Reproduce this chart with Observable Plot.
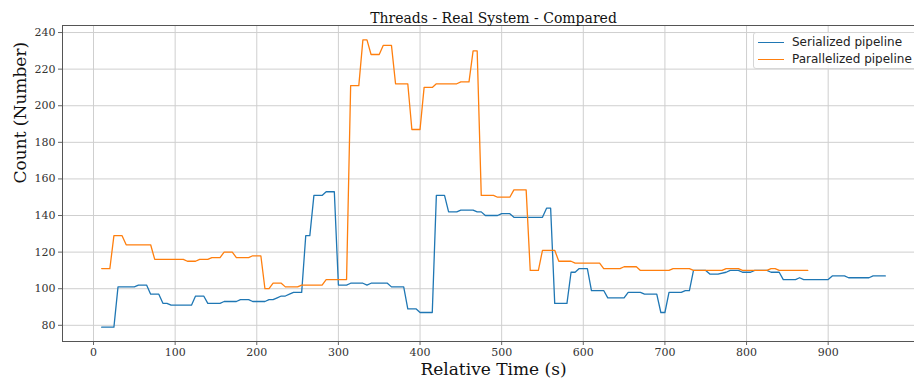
<!DOCTYPE html>
<html>
<head>
<meta charset="utf-8">
<script src="https://cdn.jsdelivr.net/npm/d3@7"></script>
<script src="https://cdn.jsdelivr.net/npm/@observablehq/plot@0.6"></script>
<style>
  html, body { margin: 0; padding: 0; background: #fff; overflow: hidden; }
  #wrap { position: relative; width: 914px; height: 380px; overflow: hidden; }
  #wrap svg { max-width: none !important; display: block; }
  #legend {
    position: absolute; left: 753px; top: 32px; width: 180px; height: 35px;
    background: rgba(255,255,255,0.8); border: 1px solid #d6d6d6; border-radius: 3px;
    font-family: "DejaVu Sans", sans-serif; font-size: 12px; color: #222;
  }
  .item { position: absolute; left: 0; height: 16px; line-height: 16px; white-space: nowrap; }
  .swatch { position: absolute; left: 4px; top: 8px; width: 26px; height: 0; border-top: 1.5px solid; }
  .lbl { position: absolute; left: 38px; top: 0; }
</style>
</head>
<body>
<div id="wrap"></div>
<script>
// Serialized pipeline: vertices (time s, count)
const serialTime = [10,25,30,50,55,65,70,80,85,90,95,120,125,135,140,155,160,175,180,190,195,210,215,220,225,230,235,240,245,255,260,265,270,280,285,295,300,310,315,330,335,340,360,365,380,385,395,400,415,420,430,435,445,450,465,470,475,480,495,500,510,515,550,555,560,565,580,585,590,595,605,610,625,630,650,655,670,675,690,695,700,705,720,725,730,735,750,755,765,775,780,790,795,805,810,825,830,840,845,860,865,870,900,905,920,925,950,955,970];
const serialCount = [79,79,101,101,102,102,97,97,92,92,91,91,96,96,92,92,93,93,94,94,93,93,94,94,95,96,96,97,98,98,129,129,151,151,153,153,102,102,103,103,102,103,103,101,101,89,89,87,87,151,151,142,142,143,143,142,142,140,140,141,141,139,139,144,144,92,92,109,109,111,111,99,99,95,95,98,98,97,97,87,87,98,98,99,99,110,110,108,108,109,110,110,109,109,110,110,109,109,105,105,106,105,105,107,107,106,106,107,107];

// Parallelized pipeline: vertices (time s, count)
const parallelTime = [10,20,25,35,40,70,75,110,115,125,130,140,145,155,160,170,175,190,195,205,210,215,220,230,235,250,255,280,285,310,315,325,330,335,340,350,355,365,370,385,390,400,405,415,420,445,450,460,465,470,475,490,495,510,515,530,535,545,550,565,570,585,590,620,625,645,650,665,670,705,710,730,735,770,775,790,795,825,830,835,840,875];
const parallelCount = [111,111,129,129,124,124,116,116,115,115,116,116,117,117,120,120,117,117,118,118,100,100,103,103,101,101,102,102,105,105,211,211,236,236,228,228,233,233,212,212,187,187,210,210,212,212,213,213,230,230,151,151,150,150,154,154,110,110,121,121,115,115,114,114,111,111,112,112,110,110,111,111,110,110,111,111,110,110,111,111,110,110];

const seriesNames = ["Serialized pipeline", "Parallelized pipeline"];
const seriesColors = ["#1f77b4", "#ff7f0e"];
const xTicks = [0,100,200,300,400,500,600,700,800,900];
const yTicks = [80,100,120,140,160,180,200,220,240];
const titleText = "Threads - Real System - Compared";
const xLabel = "Relative Time (s)";
const yLabel = "Count (Number)";

const rows = [
  ...serialTime.map((t, i) => ({series: seriesNames[0], time: t, count: serialCount[i]})),
  ...parallelTime.map((t, i) => ({series: seriesNames[1], time: t, count: parallelCount[i]}))
];

const serif = "DejaVu Serif, serif";

const chart = Plot.plot({
  width: 924,
  height: 380,
  marginLeft: 62,
  marginRight: 0,
  marginTop: 25,
  marginBottom: 39,
  style: {fontFamily: serif, fontSize: "11px", color: "#333", background: "#fff"},
  x: {domain: [-38, 1018]},
  y: {domain: [71.15, 243.85]},
  color: {domain: seriesNames, range: seriesColors},
  marks: [
    Plot.gridX(xTicks, {stroke: "#cfcfcf", strokeOpacity: 1}),
    Plot.gridY(yTicks, {stroke: "#cfcfcf", strokeOpacity: 1}),
    Plot.axisX(xTicks, {tickSize: 4, tickPadding: 3, stroke: "#666", fill: "#333", label: null, fontSize: 11}),
    Plot.axisY(yTicks, {tickSize: 4, tickPadding: 3, stroke: "#666", fill: "#333", label: null, fontSize: 11}),
    Plot.line(rows, {x: "time", y: "count", z: "series", stroke: "series", strokeWidth: 1.3}),
    Plot.frame({stroke: "#555", strokeWidth: 1}),
    Plot.text([titleText], {frameAnchor: "top", text: d => d, dy: -3, lineAnchor: "bottom", fontSize: 14, fill: "#111", fontFamily: serif}),
    Plot.text([xLabel], {frameAnchor: "bottom", text: d => d, dy: 33, lineAnchor: "bottom", fontSize: 17, fill: "#111", fontFamily: serif}),
    Plot.text([yLabel], {frameAnchor: "left", text: d => d, dx: -42, rotate: -90, lineAnchor: "middle", fontSize: 17, fill: "#111", fontFamily: serif})
  ]
});

const wrap = document.getElementById("wrap");
wrap.appendChild(chart);

const legend = document.createElement("div");
legend.id = "legend";
seriesNames.forEach((name, i) => {
  const item = document.createElement("div");
  item.className = "item";
  item.style.top = (1 + i * 17) + "px";
  const sw = document.createElement("div");
  sw.className = "swatch";
  sw.style.borderTopColor = seriesColors[i];
  const lb = document.createElement("div");
  lb.className = "lbl";
  lb.textContent = name;
  item.appendChild(sw);
  item.appendChild(lb);
  legend.appendChild(item);
});
wrap.appendChild(legend);
</script>
</body>
</html>
